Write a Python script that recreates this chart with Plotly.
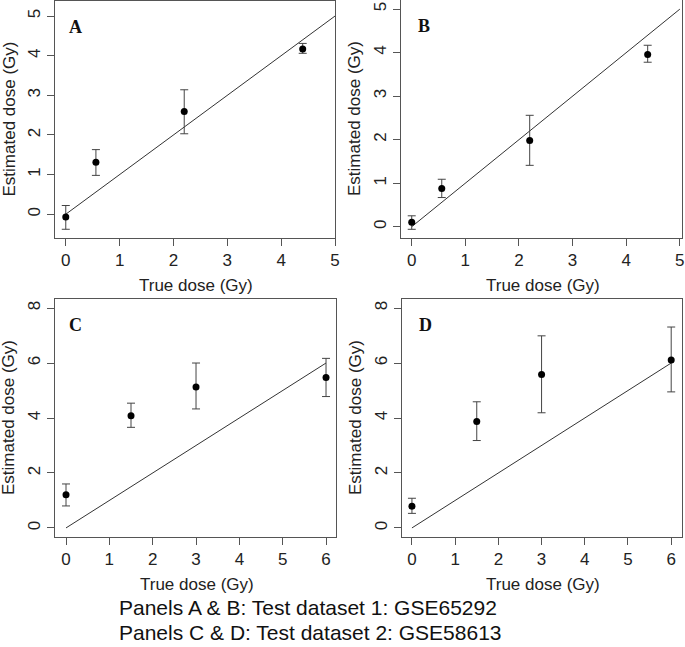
import plotly.graph_objects as go

W, H = 685, 647

# ---- data ----
ab_true_dose = [0, 0.56, 2.2, 4.4]
a_est = [-0.07, 1.31, 2.59, 4.17]
a_upper = [0.22, 1.63, 3.14, 4.31]
a_lower = [-0.38, 0.98, 2.03, 4.06]

b_est = [0.10, 0.88, 1.98, 3.96]
b_upper = [0.25, 1.09, 2.56, 4.17]
b_lower = [-0.06, 0.67, 1.41, 3.78]

cd_true_dose = [0, 1.5, 3, 6]
c_est = [1.21, 4.08, 5.13, 5.47]
c_upper = [1.60, 4.54, 6.00, 6.17]
c_lower = [0.80, 3.66, 4.33, 4.78]

d_est = [0.79, 3.87, 5.58, 6.11]
d_upper = [1.08, 4.59, 6.99, 7.31]
d_lower = [0.53, 3.18, 4.19, 4.95]

identity_ab = [0, 5]
identity_cd = [0, 6]

ab_ticks = [0, 1, 2, 3, 4, 5]
cd_xticks = [0, 1, 2, 3, 4, 5, 6]
cd_yticks = [0, 2, 4, 6, 8]

panel_letters = ["A", "B", "C", "D"]
x_title = "True dose (Gy)"
y_title = "Estimated dose (Gy)"
caption = ["Panels A & B: Test dataset 1: GSE65292",
           "Panels C & D: Test dataset 2: GSE58613"]

# ---- layout geometry (pixels) ----
def px_x(p):
    return p / W

def px_y(p):
    return 1 - p / H

panels = [
    dict(x=ab_true_dose, y=a_est, hi=a_upper, lo=a_lower, line=identity_ab,
         box=(55, 335, 1, 238), xr=[-0.2, 5.0], yr=[-0.6, 5.38],
         xt=ab_ticks, yt=ab_ticks),
    dict(x=ab_true_dose, y=b_est, hi=b_upper, lo=b_lower, line=identity_ab,
         box=(401, 682, 0, 238), xr=[-0.2, 5.04], yr=[-0.26, 5.21],
         xt=ab_ticks, yt=ab_ticks),
    dict(x=cd_true_dose, y=c_est, hi=c_upper, lo=c_lower, line=identity_cd,
         box=(55, 336, 299, 537), xr=[-0.254, 6.23], yr=[-0.33, 8.33],
         xt=cd_xticks, yt=cd_yticks),
    dict(x=cd_true_dose, y=d_est, hi=d_upper, lo=d_lower, line=identity_cd,
         box=(402, 682, 299, 537), xr=[-0.23, 6.25], yr=[-0.33, 8.33],
         xt=cd_xticks, yt=cd_yticks),
]

FONT = "Liberation Sans, Arial, sans-serif"
AXC = "#555555"
TXT = "#222222"

fig = go.Figure()
layout = dict(
    width=W, height=H, margin=dict(l=0, r=0, t=0, b=0, autoexpand=False),
    paper_bgcolor="white", plot_bgcolor="white", showlegend=False,
    font=dict(family=FONT, size=17, color=TXT),
)
annotations = []

for i, p in enumerate(panels):
    n = "" if i == 0 else str(i + 1)
    xa, ya = "x" + n, "y" + n
    x0, x1, y0, y1 = p["box"]
    # identity line
    fig.add_trace(go.Scatter(
        x=p["line"], y=p["line"], mode="lines",
        line=dict(color="#333333", width=1), xaxis=xa, yaxis=ya,
        hoverinfo="skip", cliponaxis=False))
    # points with error bars
    plus = [h - v for h, v in zip(p["hi"], p["y"])]
    minus = [v - l for l, v in zip(p["lo"], p["y"])]
    fig.add_trace(go.Scatter(
        x=p["x"], y=p["y"], mode="markers",
        marker=dict(color="black", size=7),
        error_y=dict(type="data", symmetric=False, array=plus,
                     arrayminus=minus, color="#444444", thickness=1, width=4),
        xaxis=xa, yaxis=ya, cliponaxis=False))
    common = dict(showgrid=False, zeroline=False, showline=True, mirror=True,
                  linecolor=AXC, linewidth=1, ticks="outside", ticklen=7,
                  tickcolor=AXC, tickwidth=1, automargin=False,
                  tickfont=dict(family=FONT, size=17, color=TXT))
    layout["xaxis" + n] = dict(common, domain=[px_x(x0), px_x(x1)],
                               range=p["xr"], tickvals=p["xt"],
                               anchor=ya)
    layout["yaxis" + n] = dict(common, domain=[px_y(y1), px_y(y0)],
                               range=p["yr"], tickvals=p["yt"],
                               tickangle=-90, anchor=xa)
    cx = (x0 + x1) / 2
    # x title
    annotations.append(dict(
        text=x_title, xref="paper", yref="paper", x=px_x(cx + 1),
        y=px_y(y1 + 47), xanchor="center", yanchor="middle",
        showarrow=False, font=dict(family=FONT, size=17, color=TXT)))
    # y title
    annotations.append(dict(
        text=y_title, xref="paper", yref="paper", x=px_x(x0 - 46),
        y=px_y((y0 + y1) / 2), xanchor="center", yanchor="middle",
        textangle=-90, showarrow=False,
        font=dict(family=FONT, size=17, color=TXT)))
    # panel letter
    annotations.append(dict(
        text="<b>" + panel_letters[i] + "</b>", xref="paper", yref="paper",
        x=px_x(x0 + 12 + (3 if i % 2 else 0)), y=px_y(y0 + 26),
        xanchor="left", yanchor="middle", showarrow=False,
        font=dict(family="Liberation Serif, Times New Roman, serif",
                  size=18, color="#111111")))

for j, line in enumerate(caption):
    annotations.append(dict(
        text=line, xref="paper", yref="paper", x=px_x(117),
        y=px_y(607 + 25 * j), xanchor="left", yanchor="middle",
        showarrow=False, font=dict(family=FONT, size=21, color="#111111")))

layout["annotations"] = annotations
fig.update_layout(**layout)
fig.write_html(
    "out.html",
    config={"displayModeBar": False},
    post_script="document.body.style.margin='0';"
                "document.body.style.overflow='hidden';",
)
